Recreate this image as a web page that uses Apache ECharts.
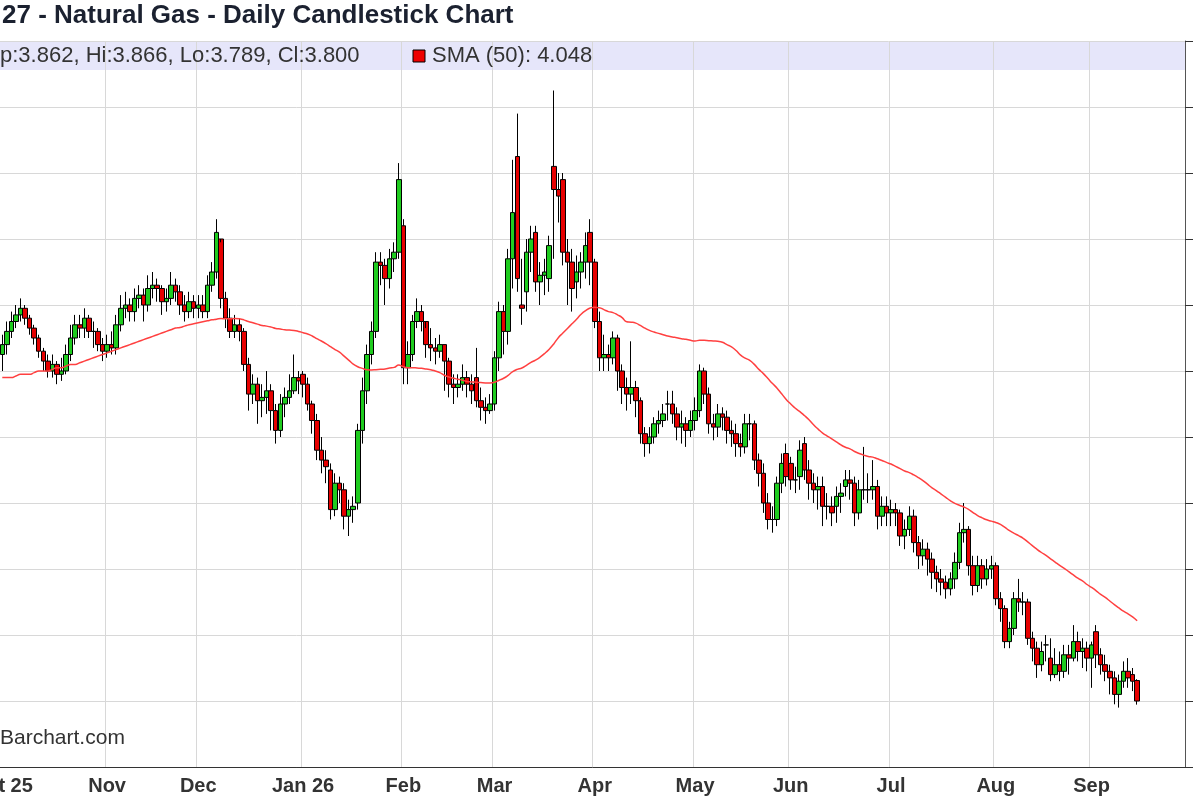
<!DOCTYPE html>
<html>
<head>
<meta charset="utf-8">
<script src="https://cdn.jsdelivr.net/npm/echarts@6/dist/echarts.min.js"></script>
<style>
    html, body {margin: 0; padding: 0; background: #fff;}
    #chartDiv {width: 1200px; height: 800px;}
</style>
</head>
<body>
<div id="chartDiv"></div>
<script>
    // daily closes / opens / highs / lows, Oct 2025 .. Sep 2026
    var closes = [].concat(
        [4.88, 4.92, 4.95, 4.97, 4.99, 4.96, 4.93, 4.90, 4.86, 4.83, 4.80, 4.82, 4.79, 4.80, 4.85, 4.90, 4.94, 4.93, 4.96, 4.92, 4.92, 4.88, 4.86],
        [4.88, 4.87, 4.94, 4.99, 5.00, 4.98, 5.02, 5.03, 5.00, 5.05, 5.06, 5.05, 5.01, 5.02, 5.06, 5.04, 5.00, 4.98, 5.01, 4.99],
        [5.00, 4.98, 5.06, 5.10, 5.22, 5.02, 4.96, 4.92, 4.94, 4.92, 4.82, 4.73, 4.76, 4.71, 4.72, 4.74, 4.68, 4.62, 4.70, 4.72, 4.74, 4.78, 4.77],
        [4.76, 4.70, 4.65, 4.56, 4.53, 4.51, 4.38, 4.46, 4.44, 4.36, 4.38, 4.39, 4.62, 4.74, 4.85, 4.92, 5.13, 5.12, 5.08, 5.14, 5.16, 5.38],
        [4.81, 4.85, 4.95, 4.98, 4.95, 4.88, 4.87, 4.86, 4.88, 4.83, 4.76, 4.75, 4.76, 4.78, 4.76, 4.74, 4.71, 4.69, 4.68, 4.70],
        [4.84, 4.98, 4.92, 5.14, 5.28, 5.08, 4.99, 5.16, 5.20, 5.07, 5.09, 5.10, 5.18, 5.35, 5.33, 5.16, 5.13, 5.05, 5.10, 5.13, 5.18, 5.13],
        [4.95, 4.84, 4.85, 4.84, 4.90, 4.80, 4.75, 4.73, 4.75, 4.71, 4.61, 4.58, 4.60, 4.64, 4.65, 4.67, 4.70, 4.67, 4.63, 4.64, 4.62, 4.65],
        [4.68, 4.80, 4.73, 4.64, 4.63, 4.67, 4.66, 4.62, 4.61, 4.58, 4.57, 4.64, 4.64, 4.53, 4.49, 4.40, 4.35, 4.35, 4.46, 4.52, 4.48],
        [4.47, 4.47, 4.56, 4.50, 4.46, 4.44, 4.45, 4.39, 4.39, 4.37, 4.42, 4.43, 4.47, 4.46, 4.37, 4.44, 4.44, 4.44, 4.45, 4.36, 4.39, 4.37],
        [4.38, 4.37, 4.30, 4.32, 4.36, 4.28, 4.24, 4.26, 4.23, 4.19, 4.17, 4.16, 4.14, 4.17, 4.22, 4.31, 4.32, 4.21, 4.15, 4.21, 4.17, 4.20, 4.21],
        [4.11, 4.08, 3.98, 4.02, 4.11, 4.10, 4.10, 3.99, 3.96, 3.91, 3.95, 3.97, 3.88, 3.91, 3.89, 3.94, 3.93, 3.98, 3.95, 3.96, 3.93],
        [3.97, 3.94, 3.91, 3.89, 3.87, 3.82, 3.86, 3.89, 3.87, 3.86, 3.80]
    );
    var opens = [].concat(
        [4.85, 4.88, 4.92, 4.95, 4.97, 4.99, 4.96, 4.93, 4.90, 4.86, 4.83, 4.80, 4.82, 4.79, 4.80, 4.85, 4.90, 4.94, 4.93, 4.96, 4.92, 4.92, 4.88],
        [4.86, 4.88, 4.87, 4.94, 4.99, 5.00, 4.98, 5.02, 5.03, 5.00, 5.05, 5.06, 5.05, 5.01, 5.02, 5.06, 5.04, 5.00, 4.98, 5.01],
        [4.99, 5.00, 4.98, 5.06, 5.10, 5.20, 5.02, 4.96, 4.92, 4.94, 4.92, 4.82, 4.73, 4.76, 4.71, 4.72, 4.74, 4.68, 4.62, 4.70, 4.72, 4.74, 4.78],
        [4.79, 4.76, 4.70, 4.65, 4.56, 4.53, 4.50, 4.38, 4.46, 4.44, 4.36, 4.38, 4.40, 4.62, 4.74, 4.85, 4.92, 5.13, 5.12, 5.08, 5.14, 5.16],
        [5.24, 4.81, 4.85, 4.95, 4.98, 4.95, 4.88, 4.87, 4.86, 4.88, 4.83, 4.76, 4.75, 4.76, 4.78, 4.76, 4.78, 4.71, 4.69, 4.68],
        [4.70, 4.84, 4.98, 4.92, 5.14, 5.45, 5.00, 5.04, 5.16, 5.22, 5.07, 5.09, 5.08, 5.42, 5.35, 5.38, 5.16, 5.13, 5.07, 5.10, 5.13, 5.22],
        [5.13, 4.95, 4.84, 4.85, 4.84, 4.90, 4.80, 4.75, 4.73, 4.75, 4.71, 4.61, 4.58, 4.60, 4.64, 4.65, 4.70, 4.70, 4.67, 4.63, 4.64, 4.62],
        [4.65, 4.68, 4.80, 4.73, 4.64, 4.63, 4.67, 4.66, 4.62, 4.61, 4.58, 4.57, 4.64, 4.64, 4.53, 4.49, 4.40, 4.35, 4.35, 4.46, 4.55],
        [4.52, 4.47, 4.48, 4.58, 4.50, 4.46, 4.44, 4.45, 4.39, 4.39, 4.39, 4.42, 4.45, 4.47, 4.46, 4.37, 4.44, 4.44, 4.44, 4.45, 4.36, 4.39],
        [4.37, 4.38, 4.37, 4.30, 4.32, 4.36, 4.28, 4.24, 4.26, 4.23, 4.19, 4.17, 4.16, 4.14, 4.17, 4.22, 4.31, 4.32, 4.21, 4.15, 4.21, 4.17, 4.20],
        [4.21, 4.11, 4.08, 3.98, 4.02, 4.11, 4.10, 4.10, 3.99, 3.96, 3.91, 3.97, 3.93, 3.88, 3.91, 3.89, 3.94, 3.93, 3.98, 3.95, 3.96],
        [3.93, 4.01, 3.94, 3.91, 3.89, 3.87, 3.82, 3.86, 3.89, 3.88, 3.862]
    );
    var highs = [].concat(
        [4.91, 4.95, 4.98, 5.00, 5.02, 5.00, 4.97, 4.94, 4.91, 4.87, 4.85, 4.85, 4.83, 4.84, 4.88, 4.94, 4.97, 4.97, 4.99, 4.97, 4.95, 4.93, 4.90],
        [4.91, 4.92, 4.97, 5.03, 5.04, 5.02, 5.05, 5.06, 5.05, 5.09, 5.10, 5.08, 5.06, 5.05, 5.10, 5.08, 5.06, 5.03, 5.04, 5.03],
        [5.03, 5.03, 5.09, 5.13, 5.26, 5.19, 5.04, 4.99, 4.97, 4.96, 4.93, 4.84, 4.79, 4.78, 4.76, 4.80, 4.76, 4.70, 4.73, 4.75, 4.79, 4.85, 4.80],
        [4.80, 4.78, 4.71, 4.67, 4.60, 4.56, 4.52, 4.49, 4.48, 4.46, 4.41, 4.42, 4.64, 4.78, 4.88, 4.95, 5.16, 5.16, 5.14, 5.17, 5.19, 5.43],
        [5.26, 4.89, 4.97, 5.02, 5.00, 4.93, 4.93, 4.90, 4.91, 4.88, 4.84, 4.79, 4.79, 4.82, 4.80, 4.79, 4.87, 4.75, 4.72, 4.73],
        [4.86, 5.01, 5.00, 5.17, 5.44, 5.58, 5.14, 5.20, 5.24, 5.24, 5.13, 5.14, 5.21, 5.65, 5.40, 5.40, 5.20, 5.17, 5.15, 5.16, 5.22, 5.26],
        [5.14, 4.98, 4.91, 4.88, 4.92, 4.91, 4.82, 4.78, 4.89, 4.77, 4.72, 4.63, 4.63, 4.66, 4.68, 4.70, 4.74, 4.74, 4.69, 4.68, 4.66, 4.68],
        [4.72, 4.82, 4.81, 4.75, 4.67, 4.70, 4.69, 4.68, 4.65, 4.64, 4.61, 4.67, 4.67, 4.65, 4.55, 4.52, 4.43, 4.39, 4.48, 4.55, 4.58],
        [4.54, 4.51, 4.59, 4.60, 4.53, 4.49, 4.48, 4.48, 4.43, 4.42, 4.45, 4.46, 4.50, 4.50, 4.48, 4.47, 4.57, 4.49, 4.53, 4.47, 4.42, 4.42],
        [4.41, 4.40, 4.38, 4.35, 4.39, 4.38, 4.30, 4.29, 4.28, 4.25, 4.21, 4.20, 4.18, 4.19, 4.25, 4.34, 4.40, 4.33, 4.24, 4.24, 4.23, 4.23, 4.24],
        [4.22, 4.13, 4.09, 4.04, 4.13, 4.17, 4.13, 4.11, 4.01, 3.98, 3.98, 4.00, 3.99, 3.96, 3.95, 3.97, 3.97, 4.03, 4.01, 3.99, 3.98],
        [3.98, 4.03, 3.96, 3.94, 3.91, 3.89, 3.88, 3.92, 3.93, 3.90, 3.866]
    );
    var lows = [].concat(
        [4.80, 4.85, 4.90, 4.93, 4.95, 4.94, 4.91, 4.88, 4.84, 4.80, 4.78, 4.78, 4.76, 4.77, 4.79, 4.83, 4.88, 4.90, 4.90, 4.90, 4.87, 4.86, 4.83],
        [4.84, 4.85, 4.85, 4.92, 4.96, 4.95, 4.95, 4.99, 4.95, 4.98, 5.02, 5.01, 4.97, 4.98, 5.00, 5.01, 4.97, 4.95, 4.96, 4.96],
        [4.96, 4.96, 4.96, 5.04, 5.08, 4.99, 4.93, 4.90, 4.90, 4.89, 4.80, 4.68, 4.70, 4.64, 4.66, 4.67, 4.62, 4.58, 4.60, 4.66, 4.70, 4.73, 4.73],
        [4.72, 4.68, 4.61, 4.53, 4.49, 4.46, 4.35, 4.36, 4.40, 4.32, 4.30, 4.34, 4.38, 4.58, 4.70, 4.82, 4.90, 5.06, 5.00, 5.05, 5.10, 5.14],
        [4.76, 4.76, 4.83, 4.93, 4.92, 4.84, 4.83, 4.82, 4.84, 4.74, 4.72, 4.70, 4.72, 4.74, 4.72, 4.70, 4.69, 4.65, 4.64, 4.67],
        [4.68, 4.80, 4.85, 4.88, 5.05, 5.04, 4.94, 4.98, 5.10, 5.04, 5.00, 5.03, 5.04, 5.14, 5.25, 5.12, 5.00, 4.98, 5.02, 5.05, 5.08, 5.06],
        [4.93, 4.80, 4.80, 4.80, 4.82, 4.74, 4.70, 4.68, 4.70, 4.66, 4.58, 4.54, 4.55, 4.58, 4.61, 4.63, 4.65, 4.64, 4.59, 4.58, 4.57, 4.60],
        [4.62, 4.66, 4.70, 4.61, 4.59, 4.60, 4.62, 4.58, 4.57, 4.54, 4.54, 4.55, 4.59, 4.50, 4.45, 4.37, 4.32, 4.31, 4.33, 4.43, 4.45],
        [4.44, 4.43, 4.44, 4.47, 4.41, 4.40, 4.38, 4.33, 4.35, 4.33, 4.34, 4.37, 4.42, 4.41, 4.33, 4.35, 4.41, 4.40, 4.41, 4.32, 4.33, 4.33],
        [4.33, 4.33, 4.27, 4.26, 4.30, 4.25, 4.20, 4.21, 4.18, 4.14, 4.13, 4.12, 4.11, 4.12, 4.14, 4.20, 4.28, 4.18, 4.12, 4.13, 4.14, 4.15, 4.17],
        [4.09, 4.04, 3.96, 3.96, 4.00, 4.07, 4.06, 3.97, 3.92, 3.87, 3.89, 3.92, 3.86, 3.87, 3.86, 3.87, 3.88, 3.92, 3.92, 3.90, 3.89],
        [3.84, 3.90, 3.88, 3.86, 3.82, 3.79, 3.78, 3.84, 3.84, 3.83, 3.789]
    );
    // SMA(50) for the first 49 days (history before the window)
    var smaHead = [4.78, 4.78, 4.78, 4.785, 4.79, 4.79, 4.79, 4.795, 4.80, 4.80, 4.80,
        4.805, 4.81, 4.81, 4.815, 4.82, 4.82, 4.825, 4.83, 4.835, 4.84,
        4.845, 4.85, 4.855, 4.86, 4.865, 4.87, 4.875, 4.88, 4.885, 4.89,
        4.895, 4.90, 4.905, 4.91, 4.915, 4.92, 4.925, 4.93, 4.932, 4.936,
        4.94, 4.943, 4.946, 4.949, 4.952, 4.955, 4.957, 4.959];
    var monthNames = ['Jan', 'Feb', 'Mar', 'Apr', 'May', 'Jun', 'Jul', 'Aug', 'Sep', 'Oct', 'Nov', 'Dec'];
    var slotCount = 260;

    // trading-day categories (weekdays from 2025-10-01)
    var dates = [];
    var d = new Date(2025, 9, 1);
    while (dates.length < slotCount) {
        if (d.getDay() !== 0 && d.getDay() !== 6) {
            dates.push(d.getFullYear() + '-' + (d.getMonth() + 1) + '-' + d.getDate());
        }
        d.setDate(d.getDate() + 1);
    }
    function isMonthStart(i) {
        if (i === 0) return true;
        return dates[i].split('-')[1] !== dates[i - 1].split('-')[1];
    }
    function isInnerMonthStart(i) {
        return i > 0 && isMonthStart(i);
    }
    function monthLabel(value) {
        var p = value.split('-');
        var m = parseInt(p[1], 10) - 1;
        if (m === 0 || m === 9) return monthNames[m] + ' ' + p[0].slice(2);
        return monthNames[m];
    }

    var candleData = [];
    for (var i = 0; i < closes.length; i++) {
        candleData.push([opens[i], closes[i], lows[i], highs[i]]);
    }
    var sma = [];
    for (var j = 0; j < closes.length; j++) {
        if (j < 49) {
            sma.push(smaHead[j]);
        } else {
            var s = 0;
            for (var k = j - 49; k <= j; k++) s += closes[k];
            sma.push(+(s / 50).toFixed(3));
        }
    }

    var chart = echarts.init(document.getElementById('chartDiv'));
    var option = {
        animation: false,
        backgroundColor: '#fff',
        textStyle: {fontFamily: 'Liberation Sans, Arial, sans-serif'},
        grid: {left: 0, right: 15, top: 41, bottom: 33, outerBoundsMode: 'none', containLabel: false},
        graphic: [
            {type: 'rect', z: -10, shape: {x: 0, y: 42, width: 1185, height: 28}, style: {fill: '#e6e6fa'}},
            {type: 'text', z: 100, left: 2, top: 3, style: {text: '27 - Natural Gas - Daily Candlestick Chart', fontSize: 26, fontWeight: 'bold', fill: '#1b2130', fontFamily: 'Liberation Sans, Arial'}},
            {type: 'text', z: 100, left: 0, top: 45, style: {text: 'p:3.862, Hi:3.866, Lo:3.789, Cl:3.800', fontSize: 22, fill: '#333', fontFamily: 'Liberation Sans, Arial'}},
            {type: 'rect', z: 100, shape: {x: 413, y: 50, width: 12, height: 12}, style: {fill: '#ee0000', stroke: '#000', lineWidth: 1}},
            {type: 'text', z: 100, left: 432, top: 45, style: {text: 'SMA (50): 4.048', fontSize: 22, fill: '#333', fontFamily: 'Liberation Sans, Arial'}},
            {type: 'text', z: 100, left: 0, top: 728, style: {text: 'Barchart.com', fontSize: 21, fill: '#333', fontFamily: 'Liberation Sans, Arial'}}
        ],
        xAxis: {
            type: 'category',
            data: dates,
            axisLine: {lineStyle: {color: '#333'}},
            axisTick: {interval: function (i) { return isMonthStart(i); }, alignWithLabel: true, length: 6, lineStyle: {color: '#333'}},
            axisLabel: {
                interval: function (i) { return isMonthStart(i); },
                formatter: monthLabel,
                fontSize: 20, fontWeight: 'bold', color: '#333', margin: 9,
                showMinLabel: true
            },
            splitLine: {show: true, interval: function (i) { return isInnerMonthStart(i); }, lineStyle: {color: '#d8d8d8'}}
        },
        yAxis: {
            type: 'value',
            position: 'right',
            min: 3.6,
            max: 5.8,
            interval: 0.2,
            axisLine: {show: true, lineStyle: {color: '#555'}},
            axisTick: {show: true, inside: false, length: 8, lineStyle: {color: '#333'}},
            axisLabel: {show: false},
            splitLine: {lineStyle: {color: '#d8d8d8'}}
        },
        series: [
            {
                name: 'Price',
                type: 'candlestick',
                data: candleData,
                barWidth: 5,
                itemStyle: {color: '#1fcc1f', color0: '#e60000', borderColor: '#000', borderColor0: '#000', borderWidth: 1}
            },
            {
                name: 'SMA (50)',
                type: 'line',
                data: sma,
                smooth: true,
                showSymbol: false,
                lineStyle: {color: '#ff4040', width: 1.5}
            }
        ]
    };
    chart.setOption(option);
</script>
</body>
</html>
